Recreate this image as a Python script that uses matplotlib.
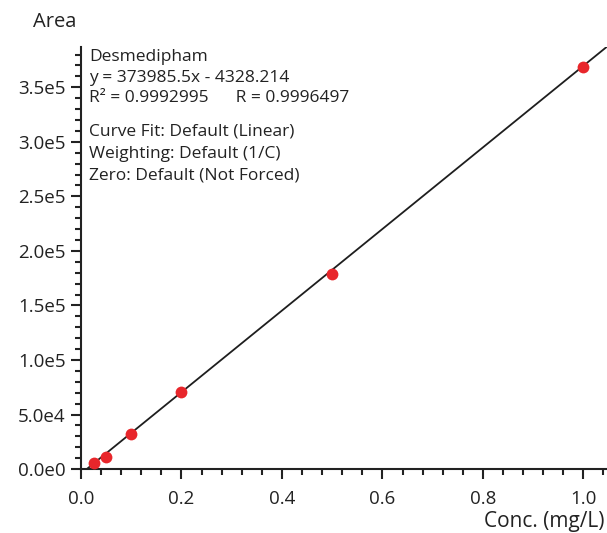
import numpy as np
import matplotlib.pyplot as plt
from matplotlib.ticker import MultipleLocator, FuncFormatter

plt.rcParams.update({
    "font.family": ["Open Sans", "DejaVu Sans"],
    "font.size": 12,
})

# calibration points
conc = [0.025, 0.05, 0.1, 0.2, 0.5, 1.0]
area = [5500, 11000, 32500, 71000, 178500, 369000]

slope = 373985.5
intercept = -4328.214

info_lines = [
    "Desmedipham",
    "y = 373985.5x - 4328.214",
    "R\u00b2 = 0.9992995      R = 0.9996497",
]
fit_lines = [
    "Curve Fit: Default (Linear)",
    "Weighting: Default (1/C)",
    "Zero: Default (Not Forced)",
]

fig = plt.figure(figsize=(6.07, 5.33), dpi=100)
ax = fig.add_axes([0.1334, 0.12, 0.8666, 0.792])

xmax = 1.047
ymax = 387000
x0 = -intercept / slope
xl = np.array([x0, xmax])
ax.plot(xl, slope * xl + intercept, color="#1e1e1e", lw=1.3, zorder=2)
ax.plot(conc, area, "o", color="#e8262b", markersize=8.5, markeredgewidth=0, zorder=3)

ax.set_xlim(0, xmax)
ax.set_ylim(0, ymax)

ax.spines["top"].set_visible(False)
ax.spines["right"].set_visible(False)
for s in ("left", "bottom"):
    ax.spines[s].set_linewidth(1.5)
    ax.spines[s].set_color("#222222")

ax.xaxis.set_major_locator(MultipleLocator(0.2))
ax.xaxis.set_minor_locator(MultipleLocator(0.04))
ax.yaxis.set_major_locator(MultipleLocator(50000))
ax.yaxis.set_minor_locator(MultipleLocator(10000))
ax.xaxis.set_major_formatter(FuncFormatter(lambda v, p: f"{v:.1f}"))


def sci(v, p):
    if v == 0:
        return "0.0e0"
    e = int(np.floor(np.log10(abs(v))))
    return f"{v / 10**e:.1f}e{e}"


ax.yaxis.set_major_formatter(FuncFormatter(sci))
ax.tick_params(which="major", direction="out", length=7, width=1.5,
               color="#222222", labelsize=13.5, labelcolor="#222222")
ax.tick_params(axis="x", which="major", pad=8)
ax.tick_params(axis="y", which="major", pad=4)
ax.tick_params(which="minor", direction="out", length=4, width=1.5,
               color="#222222")

fig.text(33 / 607, 1 - 22 / 533, "Area", fontsize=14.5, va="center", ha="left",
         color="#222222")
fig.text(604 / 607, 1 - 522 / 533, "Conc. (mg/L)", fontsize=15, va="center",
         ha="right", color="#222222")

for i, t in enumerate(info_lines):
    fig.text(89 / 607, 1 - (57 + 20.5 * i) / 533, t, fontsize=12.5,
             va="center", ha="left", color="#222222")
for i, t in enumerate(fit_lines):
    fig.text(89 / 607, 1 - (132 + 22 * i) / 533, t, fontsize=12.5,
             va="center", ha="left", color="#222222")

fig.savefig("out.png", dpi=100)
